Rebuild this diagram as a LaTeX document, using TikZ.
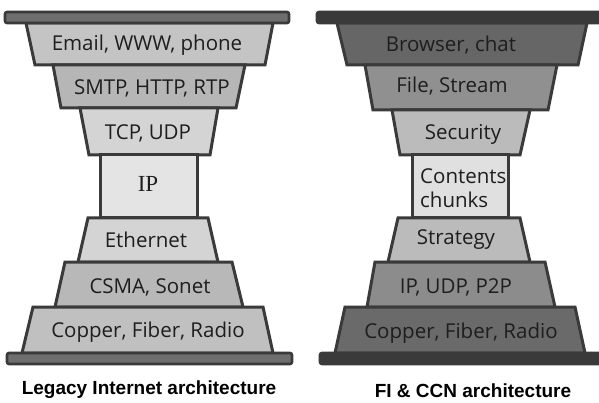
\documentclass[tikz,border=0pt]{standalone}
\usepackage{fontspec}
\setmainfont{Open Sans}
\newfontfamily\ipfont{Liberation Serif}
\newfontfamily\capfont{Liberation Sans}
\definecolor{edge}{HTML}{3A3A3A}
\definecolor{ink}{HTML}{1E1E1E}
\definecolor{barfill}{HTML}{6E6E6E}
\begin{document}
\begin{tikzpicture}[x=1pt,y=-1pt,
  band/.style={draw=edge,line width=3pt},
  bar/.style={draw=edge,line width=2.6pt,rounded corners=2pt},
  lbl/.style={text=ink,font=\fontsize{20.5}{23}\selectfont,inner sep=0pt},
  archtitle/.style={text=black,font=\capfont\bfseries\fontsize{19}{21}\selectfont,inner sep=0pt}]
\clip (0,0) rectangle (599,403);
\fill[white] (0,0) rectangle (599,403);

% ---------- legacy stack ----------
\draw[band,fill={rgb,255:red,196;green,196;blue,196}] (26,23) -- (273,23) -- (265,65) -- (35,65) -- cycle;
\draw[band,fill={rgb,255:red,182;green,182;blue,182}] (53,65) -- (245,65) -- (236,108) -- (61,108) -- cycle;
\draw[band,fill={rgb,255:red,212;green,212;blue,212}] (80,108) -- (218,108) -- (210,155) -- (89,155) -- cycle;
\draw[band,fill={rgb,255:red,228;green,228;blue,228}] (100,155) rectangle (197,218);
\draw[band,fill={rgb,255:red,212;green,212;blue,212}] (88,218) -- (208,218) -- (218,262) -- (78,262) -- cycle;
\draw[band,fill={rgb,255:red,184;green,184;blue,184}] (65,262) -- (232,262) -- (243,307) -- (55,307) -- cycle;
\draw[band,fill={rgb,255:red,192;green,192;blue,192}] (33,307) -- (263,307) -- (273,353) -- (22,353) -- cycle;
\draw[bar,fill=barfill] (5,12) rectangle (289,23);
\draw[bar,fill=barfill] (7,353) rectangle (292,364);

\node[lbl] (email) at (147,45) {Email, WWW, phone};
\node[lbl] (smtp) at (152,88) {SMTP, HTTP, RTP};
\node[lbl] (tcp) at (148,133) {TCP, UDP};
\node[lbl,font=\ipfont\fontsize{23}{25}\selectfont] (ip) at (148,184) {IP};
\node[lbl] (eth) at (146,240) {Ethernet};
\node[lbl] (csma) at (150,287) {CSMA, Sonet};
\node[lbl] (phyl) at (148,332) {Copper, Fiber, Radio};
\node[archtitle] (legacy) at (149,390) {Legacy Internet architecture};

% ---------- FI & CCN stack ----------
\draw[band,fill={rgb,255:red,102;green,102;blue,102}] (337,23) -- (587,23) -- (578,65) -- (347,65) -- cycle;
\draw[band,fill={rgb,255:red,144;green,144;blue,144}] (365,65) -- (557,65) -- (548,110) -- (373,110) -- cycle;
\draw[band,fill={rgb,255:red,187;green,187;blue,187}] (392,110) -- (530,110) -- (520,155) -- (400,155) -- cycle;
\draw[band,fill={rgb,255:red,224;green,224;blue,224}] (412,155) rectangle (508,218);
\draw[band,fill={rgb,255:red,187;green,187;blue,187}] (398,218) -- (520,218) -- (530,262) -- (388,262) -- cycle;
\draw[band,fill={rgb,255:red,140;green,140;blue,140}] (375,262) -- (545,262) -- (555,307) -- (367,307) -- cycle;
\draw[band,fill={rgb,255:red,106;green,106;blue,106}] (345,307) -- (575,307) -- (585,353) -- (335,353) -- cycle;
\draw[bar,fill=edge] (317,12) rectangle (606,23);
\draw[bar,fill=edge] (320,353) rectangle (606,364);

\node[lbl] (browser) at (451,45) {Browser, chat};
\node[lbl] (file) at (452,86) {File, Stream};
\node[lbl] (sec) at (463,134) {Security};
\node[lbl,anchor=west] (cont) at (420,176) {Contents};
\node[lbl,anchor=west] (chunk) at (420,200) {chunks};
\node[lbl] (strat) at (456,240) {Strategy};
\node[lbl] (ipudp) at (456,287) {IP, UDP, P2P};
\node[lbl] (phyr) at (461,333) {Copper, Fiber, Radio};
\node[archtitle] (ficcn) at (473,391) {FI \& CCN architecture};
\end{tikzpicture}
\end{document}
